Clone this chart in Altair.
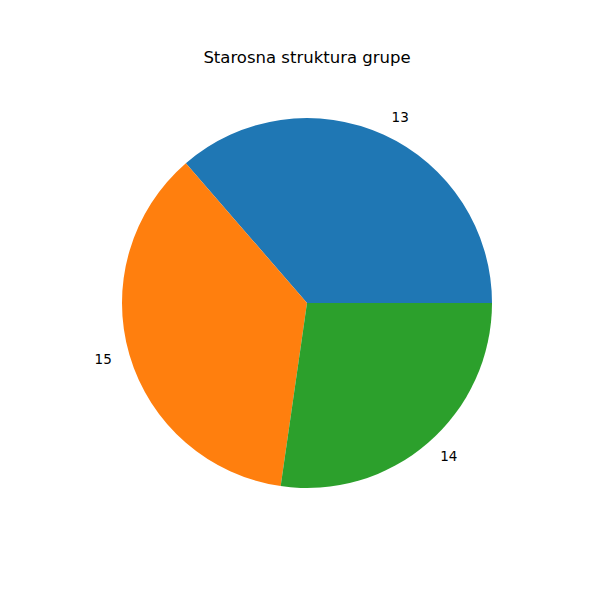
import math
import altair as alt
import pandas as pd

ages = ["13", "15", "14"]
counts = [4, 4, 3]
colors = ["#1f77b4", "#ff7f0e", "#2ca02c"]

df = pd.DataFrame({"age": ages, "count": counts, "order": list(range(len(ages)))})

theta_scale = alt.Scale(range=[math.pi / 2, math.pi / 2 - 2 * math.pi])
CX, CY, R = 299, 225, 185

base = alt.Chart(df)

arcs = base.mark_arc(radius=R).encode(
    theta=alt.Theta("count:Q", stack=True, scale=theta_scale),
    color=alt.Color("age:N", scale=alt.Scale(domain=ages, range=colors), legend=None),
    order=alt.Order("order:Q"),
    x=alt.value(CX),
    y=alt.value(CY),
)

lab = base.transform_joinaggregate(total="sum(count)").transform_window(
    cum="sum(count)", sort=[alt.SortField("order")], frame=[None, 0]
).transform_calculate(
    left="cos(2*PI*(datum.cum - datum.count/2)/datum.total) < 0"
)

def labels(align, show_left):
    return lab.mark_text(
        radius=R * 1.1, align=align, baseline="middle", font="DejaVu Sans",
        fontSize=13.5, color="black"
    ).encode(
        theta=alt.Theta("count:Q", stack=True, scale=theta_scale),
        text="age:N",
        order=alt.Order("order:Q"),
        x=alt.value(CX),
        y=alt.value(CY),
        opacity=alt.condition(
            "datum.left" if show_left else "!datum.left", alt.value(1), alt.value(0)
        ),
    )

chart = alt.layer(arcs, labels("left", False), labels("right", True)).properties(
    width=584,
    height=514,
    padding={"left": 0, "top": 70, "right": 0, "bottom": 0},
    autosize=alt.AutoSizeParams(type="none"),
    title=alt.TitleParams(
        "Starosna struktura grupe", font="DejaVu Sans", fontSize=16.5,
        fontWeight="normal", color="black", offset=12, anchor="middle", dx=7
    ),
).configure_view(stroke=None)

chart.save("out.html", embed_options={"renderer": "svg", "actions": False})
